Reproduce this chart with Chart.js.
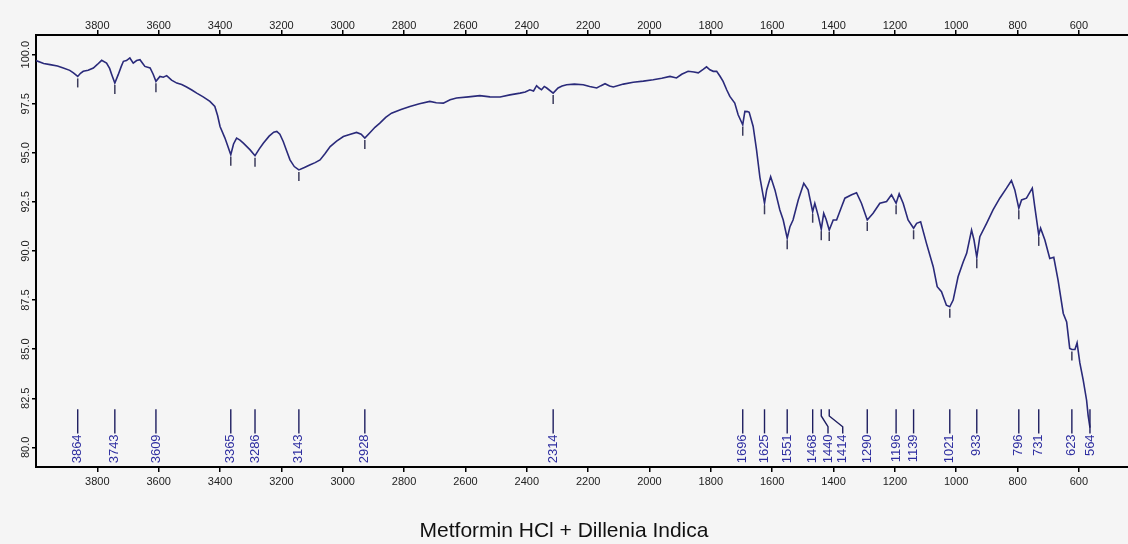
<!DOCTYPE html>
<html>
<head>
<meta charset="utf-8">
<script src="https://cdn.jsdelivr.net/npm/chart.js@4.4.1/dist/chart.umd.min.js"></script>
<style>
  html, body { margin: 0; padding: 0; background: #f5f5f5; overflow: hidden; }
  canvas { display: block; background: #f5f5f5; }
</style>
</head>
<body>
<canvas id="c" width="1128" height="544"></canvas>
<script>
// ---- data ----
const wavenumbers = [
  4000, 3975, 3954, 3930, 3911, 3890, 3878, 3864, 3855, 3846, 3830, 3813, 3800, 3786, 3770, 3760,
  3753, 3743, 3732, 3722, 3715, 3705, 3694, 3683, 3672, 3661, 3652, 3645, 3628, 3618, 3609, 3596,
  3585, 3574, 3558, 3541, 3525, 3509, 3492, 3476, 3455, 3433, 3417, 3408, 3400, 3384, 3376, 3365,
  3356, 3346, 3335, 3324, 3302, 3286, 3272, 3259, 3240, 3225, 3215, 3205, 3194, 3183, 3172, 3158,
  3143, 3125, 3106, 3090, 3074, 3058, 3041, 3020, 2998, 2975, 2955, 2940, 2928, 2910, 2895, 2879,
  2860, 2841, 2810, 2781, 2750, 2716, 2695, 2672, 2650, 2629, 2590, 2553, 2520, 2487, 2455, 2422,
  2405, 2390, 2378, 2368, 2360, 2352, 2343, 2335, 2314, 2298, 2285, 2270, 2245, 2216, 2195, 2172,
  2158, 2145, 2130, 2118, 2085, 2053, 2020, 1988, 1960, 1933, 1912, 1895, 1874, 1855, 1841, 1825,
  1814, 1803, 1792, 1781, 1770, 1760, 1748, 1738, 1722, 1711, 1696, 1689, 1680, 1675, 1662, 1651,
  1640, 1625, 1618, 1605, 1591, 1575, 1564, 1551, 1542, 1532, 1515, 1497, 1483, 1468, 1461, 1450,
  1440, 1432, 1424, 1414, 1401, 1390, 1375, 1363, 1341, 1325, 1309, 1290, 1271, 1249, 1227, 1211,
  1196, 1186, 1173, 1157, 1139, 1129, 1116, 1097, 1075, 1062, 1048, 1032, 1021, 1010, 994, 977,
  966, 950, 942, 933, 923, 901, 880, 858, 836, 820, 809, 796, 787, 771, 752, 744,
  731, 725, 711, 695, 682, 668, 651, 640, 630, 623, 613, 606, 597, 586, 575, 570, 564
];
const transmittance = [
  99.70, 99.55, 99.49, 99.42, 99.32, 99.20, 99.07, 98.89, 99.05, 99.15, 99.20, 99.32, 99.50, 99.71, 99.57, 99.30,
  98.98, 98.55, 98.98, 99.40, 99.66, 99.70, 99.83, 99.57, 99.70, 99.74, 99.55, 99.40, 99.32, 99.00, 98.64, 98.89,
  98.85, 98.93, 98.70, 98.55, 98.48, 98.35, 98.20, 98.04, 97.85, 97.62, 97.36, 96.90, 96.34, 95.75, 95.40, 94.90,
  95.45, 95.75, 95.65, 95.49, 95.15, 94.85, 95.20, 95.49, 95.85, 96.05, 96.09, 95.95, 95.58, 95.10, 94.64, 94.30,
  94.13, 94.25, 94.39, 94.50, 94.64, 94.95, 95.32, 95.60, 95.83, 95.95, 96.04, 95.95, 95.75, 96.05, 96.30, 96.51,
  96.80, 97.02, 97.20, 97.36, 97.50, 97.62, 97.55, 97.53, 97.70, 97.79, 97.85, 97.91, 97.85, 97.84, 97.95, 98.04,
  98.10, 98.21, 98.15, 98.42, 98.30, 98.21, 98.38, 98.30, 98.04, 98.30, 98.40, 98.47, 98.50, 98.47, 98.38, 98.30,
  98.42, 98.52, 98.40, 98.35, 98.50, 98.59, 98.65, 98.72, 98.80, 98.89, 98.81, 99.00, 99.15, 99.12, 99.07, 99.25,
  99.38, 99.23, 99.15, 99.15, 98.90, 98.64, 98.20, 97.87, 97.53, 96.94, 96.43, 97.11, 97.10, 97.06, 96.34, 95.15,
  93.75, 92.43, 93.11, 93.79, 93.11, 92.09, 91.58, 90.65, 91.24, 91.58, 92.60, 93.45, 93.11, 92.00, 92.43, 91.80,
  91.11, 91.92, 91.60, 91.07, 91.58, 91.58, 92.20, 92.69, 92.86, 92.97, 92.43, 91.58, 91.92, 92.43, 92.52, 92.86,
  92.43, 92.91, 92.43, 91.58, 91.16, 91.41, 91.49, 90.39, 89.20, 88.18, 87.93, 87.24, 87.16, 87.50, 88.69, 89.45,
  89.88, 91.07, 90.56, 89.68, 90.73, 91.41, 92.09, 92.69, 93.20, 93.59, 93.11, 92.18, 92.60, 92.69, 93.20, 92.26,
  90.82, 91.16, 90.56, 89.62, 89.68, 88.52, 86.82, 86.39, 85.04, 84.98, 84.98, 85.32, 84.30, 83.42, 82.40, 81.63, 81.00
];
const peakWavenumbers = [3864, 3743, 3609, 3365, 3286, 3143, 2928, 2314, 1696, 1625, 1551, 1468, 1440, 1414,
                         1290, 1196, 1139, 1021, 933, 796, 731, 623, 564];
const peakLabelAt     = [3864, 3743, 3609, 3365, 3286, 3143, 2928, 2314, 1696, 1625, 1551, 1468, 1418, 1370,
                         1290, 1196, 1139, 1021, 933, 796, 731, 623, 564];
const peakMarkers = [3864, 3743, 3609, 3365, 3286, 3143, 2928, 2314, 1696, 1625, 1551, 1468, 1440, 1414,
                     1290, 1196, 1139, 1021, 933, 796, 731, 623];
const xTickValues = [3800, 3600, 3400, 3200, 3000, 2800, 2600, 2400, 2200, 2000, 1800, 1600, 1400, 1200, 1000, 800, 600];
const yTickValues = [80, 82.5, 85, 87.5, 90, 92.5, 95, 97.5, 100];
const chartTitle = 'Metformin HCl + Dillenia Indica';

// ---- styling ----
const FONT = "'Liberation Sans', Arial, Helvetica, sans-serif";
const LEADER_TOP = 81.94, LEADER_BEND1 = 81.6, LEADER_BEND2 = 81.05, LEADER_BOTTOM = 80.71, LABEL_START = 80.66;

const peakLabelPlugin = {
  id: 'peakLabels',
  afterDraw(chart) {
    const ctx = chart.ctx, xs = chart.scales.x, ys = chart.scales.y;
    ctx.save();
    // small markers below each absorption minimum on the curve
    ctx.strokeStyle = '#3c3c5c';
    ctx.lineWidth = 1.5;
    peakMarkers.forEach(p => {
      const i = wavenumbers.indexOf(p);
      if (i < 0) return;
      const X = xs.getPixelForValue(p), Y = ys.getPixelForValue(transmittance[i]);
      ctx.beginPath(); ctx.moveTo(X, Y + 2); ctx.lineTo(X, Y + 11); ctx.stroke();
    });
    // leader lines and labels near the bottom
    peakWavenumbers.forEach((p, i) => {
      const X = xs.getPixelForValue(p), XL = xs.getPixelForValue(peakLabelAt[i]);
      ctx.strokeStyle = '#1e1e60';
      ctx.lineWidth = 1.4;
      ctx.beginPath();
      ctx.moveTo(X, ys.getPixelForValue(LEADER_TOP));
      if (XL !== X) {
        ctx.lineTo(X, ys.getPixelForValue(LEADER_BEND1));
        ctx.lineTo(XL, ys.getPixelForValue(LEADER_BEND2));
      }
      ctx.lineTo(XL, ys.getPixelForValue(LEADER_BOTTOM));
      ctx.stroke();
      ctx.save();
      ctx.translate(XL, ys.getPixelForValue(LABEL_START));
      ctx.rotate(-Math.PI / 2);
      ctx.textAlign = 'right';
      ctx.textBaseline = 'middle';
      ctx.fillStyle = '#2e2ea0';
      ctx.font = '13px ' + FONT;
      ctx.fillText(String(p), 0, 0);
      ctx.restore();
    });
    ctx.restore();
  }
};

const xAxisCommon = (position, height, pad) => ({
  type: 'linear',
  position,
  min: 440,
  max: 4000,
  reverse: true,
  afterBuildTicks: s => { s.ticks = xTickValues.map(v => ({ value: v })); },
  afterFit: s => { s.height = height; },
  ticks: { color: '#222', font: { size: 11, family: FONT }, padding: pad, maxRotation: 0, autoSkip: false,
           callback: v => String(v) },
  grid: { drawOnChartArea: false, drawTicks: true, tickLength: 5, color: '#000', lineWidth: 1.5 },
  border: { display: true, color: '#000', width: 2 }
});

new Chart(document.getElementById('c'), {
  type: 'line',
  data: {
    datasets: [{
      data: wavenumbers.map((w, i) => ({ x: w, y: transmittance[i] })),
      borderColor: '#2a2a7a',
      borderWidth: 1.6,
      pointRadius: 0,
      tension: 0,
      fill: false
    }]
  },
  options: {
    responsive: false,
    animation: false,
    devicePixelRatio: 1,
    layout: { padding: 0 },
    plugins: {
      legend: { display: false },
      tooltip: { enabled: false },
      title: {
        display: true,
        text: chartTitle,
        position: 'bottom',
        color: '#111',
        font: { size: 21, family: FONT, weight: 'normal' },
        padding: { top: 0, bottom: 0 }
      }
    },
    scales: {
      x: xAxisCommon('bottom', 544 - 467 - 25.2, 3),
      x2: xAxisCommon('top', 35, -3),
      y: {
        type: 'linear',
        position: 'left',
        min: 79,
        max: 101,
        afterBuildTicks: s => { s.ticks = yTickValues.map(v => ({ value: v })); },
        afterFit: s => { s.width = 36; },
        ticks: { color: '#222', font: { size: 11, family: FONT }, minRotation: 90, maxRotation: 90,
                 crossAlign: 'center', padding: -8, callback: v => Number(v).toFixed(1) },
        grid: { drawOnChartArea: false, drawTicks: true, tickLength: 4, color: '#000', lineWidth: 1.5 },
        border: { display: true, color: '#000', width: 2 }
      }
    }
  },
  plugins: [peakLabelPlugin]
});
</script>
</body>
</html>
